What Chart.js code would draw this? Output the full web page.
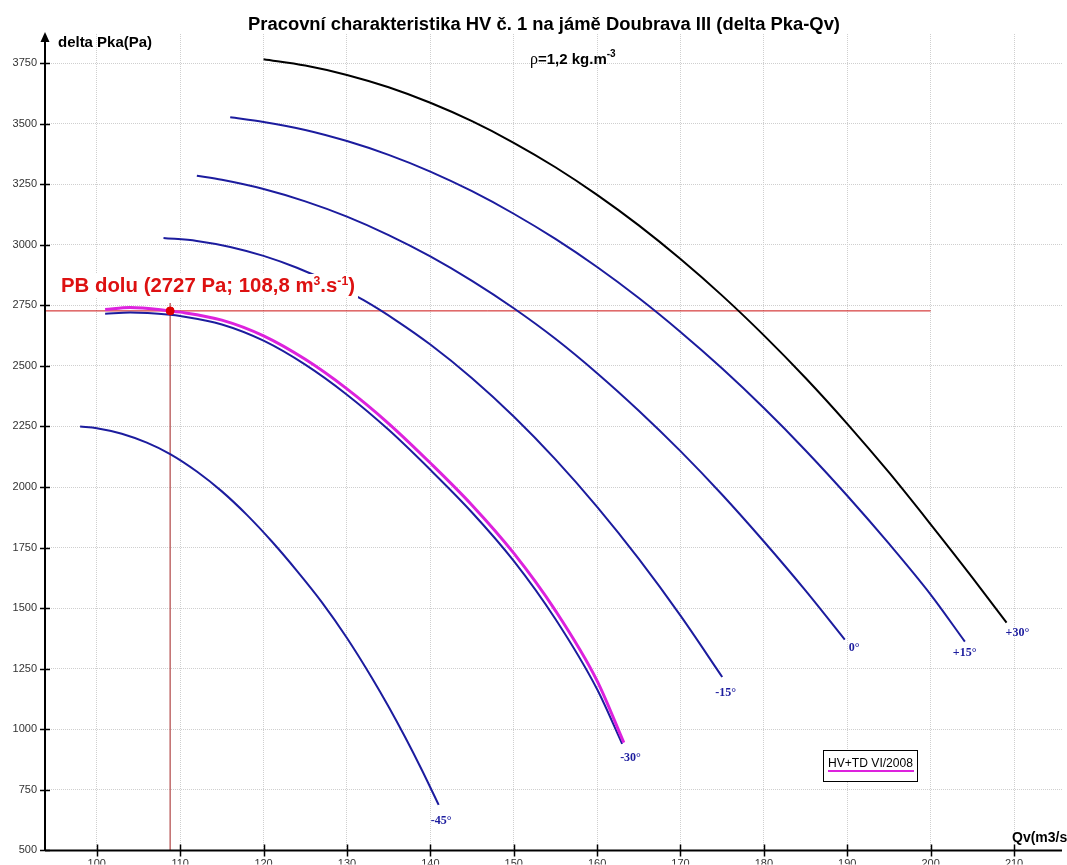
<!doctype html>
<html lang="cs">

<head>
    <meta charset="utf-8">
    <title>Pracovní charakteristika HV č. 1</title>
    <style>
        * {
            margin: 0;
            padding: 0;
        }

        body {
            background: #fff;
        }

        .chartBox {
            width: 1067px;
            height: 865px;
            position: relative;
        }
    </style>
</head>

<body>
    <div class="chartBox">
        <canvas id="myChart"></canvas>
    </div>

    <script src="https://cdn.jsdelivr.net/npm/chart.js"></script>

    <script>
        // axis ranges and tick labels
        const qvMin = 93.79
        const qvMax = 215.75
        const dpMin = 500
        const dpMax = 3870
        const qvTicks = [100, 110, 120, 130, 140, 150, 160, 170, 180, 190, 200, 210]
        const dpTicks = [500, 750, 1000, 1250, 1500, 1750, 2000, 2250, 2500, 2750, 3000, 3250, 3500, 3750]

        // blade angle curves (Qv in m3/s, delta Pka in Pa)
        const qvP30 = [120, 125, 130, 135, 140, 145, 150, 155, 160, 165, 170, 175, 180, 185, 190, 195, 200, 205, 209.1]
        const dpP30 = [3766, 3740, 3701, 3650, 3586, 3510, 3421, 3320, 3206, 3080, 2941, 2790, 2626, 2450, 2261, 2060, 1846, 1626, 1440]

        const qvP15 = [116, 120, 125, 130, 135, 140, 145, 150, 155, 160, 165, 170, 175, 180, 185, 190, 195, 200, 204.1]
        const dpP15 = [3526, 3507, 3474, 3428, 3371, 3302, 3221, 3128, 3024, 2908, 2780, 2640, 2489, 2326, 2151, 1964, 1766, 1556, 1362]

        const qv0 = [112, 115, 120, 125, 130, 135, 140, 145, 150, 155, 160, 165, 170, 175, 180, 185, 189.7]
        const dp0 = [3285, 3268, 3230, 3179, 3116, 3040, 2952, 2851, 2738, 2612, 2470, 2315, 2148, 1968, 1775, 1572, 1370]

        const qvM15 = [108, 112, 116, 120, 124, 128, 132, 136, 140, 145, 150, 155, 160, 165, 170, 175]
        const dpM15 = [3028, 3016, 2991, 2954, 2905, 2844, 2771, 2685, 2588, 2449, 2291, 2114, 1918, 1703, 1469, 1216]

        const qvM30 = [101, 104, 108.8, 110, 115, 120, 125, 130, 135, 140, 145, 150, 155, 160, 163]
        const dpM30 = [2715, 2720, 2711, 2706, 2671, 2604, 2505, 2381, 2236, 2071, 1895, 1695, 1455, 1165, 940]

        const qvM45 = [98, 100, 103, 106, 108.8, 112, 115, 118, 121, 124, 127, 130, 133, 135, 137, 139, 141]
        const dpM45 = [2250, 2243, 2220, 2183, 2136, 2064, 1982, 1885, 1775, 1654, 1524, 1377, 1212, 1093, 966, 831, 688]

        // measured curve HV+TD VI/2008
        const qvMeas = [101, 104, 108.8, 110, 115, 120, 125, 130, 135, 140, 145, 150, 155, 160, 163.2]
        const dpMeas = [2733, 2741, 2727, 2722, 2689, 2624, 2527, 2405, 2262, 2099, 1925, 1727, 1490, 1200, 945]

        // operating point of the mine
        const pbQv = 108.8
        const pbDp = 2727
        const pbLineEndQv = 200
        const pbLineTopDp = 2760

        const angleLabels = ['+30°', '+15°', '0°', '-15°', '-30°', '-45°']
        const angleQv = [qvP30, qvP15, qv0, qvM15, qvM30, qvM45]
        const angleDp = [dpP30, dpP15, dp0, dpM15, dpM30, dpM45]
        const angleColors = ['#000000', '#1c1c9e', '#1c1c9e', '#1c1c9e', '#1c1c9e', '#1c1c9e']
        // label offset from the curve end, px (left edge, baseline)
        const labelOffsets = [[-1, 13], [-12, 14], [4, 11], [-7, 19], [-2, 17], [-8, 19]]

        const sans = "'Liberation Sans', Arial, sans-serif"
        const serif = "'Liberation Serif', 'Times New Roman', serif"

        const toPoints = (xs, ys) => xs.map((v, i) => ({ x: v, y: ys[i] }))

        const angleSets = angleLabels.map((lbl, i) => ({
            label: lbl,
            data: toPoints(angleQv[i], angleDp[i]),
            borderColor: angleColors[i],
            borderWidth: 2,
            pointRadius: 0,
            cubicInterpolationMode: 'monotone',
            order: 2
        }))

        const datasets = [
            {
                label: 'PB dolu',
                data: [{ x: pbQv, y: pbDp }],
                showLine: false,
                pointRadius: 4,
                pointBackgroundColor: '#e00000',
                pointBorderColor: '#e00000',
                order: 0
            },
            {
                label: 'HV+TD VI/2008',
                data: toPoints(qvMeas, dpMeas),
                borderColor: '#dd22dd',
                borderWidth: 3,
                pointRadius: 0,
                cubicInterpolationMode: 'monotone',
                order: 1
            },
            ...angleSets,
            {
                label: 'pb-h',
                data: [{ x: qvMin, y: pbDp }, { x: pbLineEndQv, y: pbDp }],
                borderColor: '#cc1111',
                borderWidth: 1,
                pointRadius: 0,
                order: 5
            },
            {
                label: 'pb-v',
                data: [{ x: pbQv, y: dpMin }, { x: pbQv, y: pbLineTopDp }],
                borderColor: '#c06a6a',
                borderWidth: 1.5,
                pointRadius: 0,
                order: 5
            }
        ]

        // text drawn in pieces, squeezed to the width it has in the picture
        function drawRich(ctx, parts, x, y, width, color) {
            ctx.save()
            let total = 0
            parts.forEach(p => {
                ctx.font = p.font
                p.w = ctx.measureText(p.t).width
                total += p.w
            })
            const k = width ? width / total : 1
            ctx.translate(x, y)
            ctx.scale(k, 1)
            ctx.fillStyle = color
            ctx.textAlign = 'left'
            ctx.textBaseline = 'alphabetic'
            let cx = 0
            parts.forEach(p => {
                ctx.font = p.font
                ctx.fillText(p.t, cx, p.rise || 0)
                cx += p.w
            })
            ctx.restore()
            return total * k
        }

        const decor = {
            id: 'decor',
            beforeDraw(chart) {
                const ctx = chart.ctx
                ctx.save()
                ctx.fillStyle = '#fff'
                ctx.fillRect(0, 0, chart.width, chart.height)
                ctx.restore()
            },
            afterDraw(chart) {
                const { ctx, chartArea: a, scales: { x, y } } = chart

                // curve end labels
                angleLabels.forEach((lbl, i) => {
                    const meta = chart.getDatasetMeta(i + 2)
                    const end = meta.data[meta.data.length - 1]
                    ctx.save()
                    ctx.font = 'bold 12px ' + serif
                    ctx.fillStyle = '#1c1c9e'
                    ctx.textBaseline = 'alphabetic'
                    ctx.fillText(lbl, end.x + labelOffsets[i][0], end.y + labelOffsets[i][1])
                    ctx.restore()
                })

                // operating point label on a white box
                const bold20 = 'bold 20px ' + sans
                const bold12 = 'bold 12px ' + sans
                const pbParts = [
                    { t: 'PB dolu (2727 Pa; 108,8 m', font: bold20 },
                    { t: '3', font: bold12, rise: -7 },
                    { t: '.s', font: bold20 },
                    { t: '-1', font: bold12, rise: -7 },
                    { t: ')', font: bold20 }
                ]
                ctx.save()
                ctx.fillStyle = '#fff'
                ctx.fillRect(59, 274, 299, 24)
                ctx.restore()
                drawRich(ctx, pbParts, 61, 292, 294, '#dd1111')

                // title and axis names
                drawRich(ctx, [{ t: 'Pracovní charakteristika HV č. 1 na jámě Doubrava III (delta Pka-Qv)', font: 'bold 18px ' + sans }], 248, 30, 592, '#000')
                drawRich(ctx, [{ t: 'delta Pka(Pa)', font: 'bold 14px ' + sans }], 58, 47, 94, '#000')
                drawRich(ctx, [
                    { t: 'ρ', font: '16px ' + serif },
                    { t: '=1,2 kg.m', font: 'bold 15px ' + sans },
                    { t: '-3', font: 'bold 10px ' + sans, rise: -7 }
                ], 530, 64, 0, '#000')
                drawRich(ctx, [{ t: 'Qv(m3/s)', font: 'bold 14px ' + sans }], 1012, 842, 0, '#000')

                // legend box
                ctx.save()
                ctx.fillStyle = '#fff'
                ctx.fillRect(823, 750, 94, 31)
                ctx.strokeStyle = '#000'
                ctx.lineWidth = 1
                ctx.strokeRect(823.5, 750.5, 94, 31)
                ctx.strokeStyle = '#dd22dd'
                ctx.lineWidth = 2
                ctx.beginPath()
                ctx.moveTo(828, 771)
                ctx.lineTo(914, 771)
                ctx.stroke()
                ctx.restore()
                drawRich(ctx, [{ t: 'HV+TD VI/2008', font: '12px ' + sans }], 828, 767, 85, '#000')

                // axes with crossing tick marks and an arrow on the y axis
                ctx.save()
                ctx.strokeStyle = '#000'
                ctx.lineWidth = 2
                ctx.beginPath()
                ctx.moveTo(a.left, a.bottom)
                ctx.lineTo(a.right, a.bottom)
                ctx.moveTo(a.left, a.bottom)
                ctx.lineTo(a.left, a.top + 4)
                ctx.stroke()
                ctx.fillStyle = '#000'
                ctx.beginPath()
                ctx.moveTo(a.left, a.top - 2)
                ctx.lineTo(a.left - 4.5, a.top + 8)
                ctx.lineTo(a.left + 4.5, a.top + 8)
                ctx.closePath()
                ctx.fill()
                ctx.lineWidth = 1.5
                ctx.beginPath()
                y.ticks.forEach(t => {
                    const py = Math.round(y.getPixelForValue(t.value)) + 0.5
                    ctx.moveTo(a.left - 5, py)
                    ctx.lineTo(a.left + 5, py)
                })
                x.ticks.forEach(t => {
                    const px = Math.round(x.getPixelForValue(t.value)) + 0.5
                    ctx.moveTo(px, a.bottom - 6)
                    ctx.lineTo(px, a.bottom + 6)
                })
                ctx.stroke()
                ctx.restore()
            }
        }

        const tickFont = { family: sans, size: 11 }

        const config = {
            type: 'line',
            data: { datasets: datasets },
            options: {
                animation: false,
                responsive: true,
                maintainAspectRatio: false,
                layout: { padding: { top: 34, left: 0, right: 0, bottom: 0 } },
                plugins: {
                    legend: { display: false },
                    tooltip: { enabled: false },
                    title: { display: false }
                },
                scales: {
                    x: {
                        type: 'linear',
                        min: qvMin,
                        max: qvMax,
                        afterBuildTicks: s => { s.ticks = qvTicks.map(v => ({ value: v })) },
                        afterFit: s => { s.height = 14 },
                        ticks: {
                            font: tickFont,
                            color: '#333',
                            padding: 7,
                            maxRotation: 0,
                            autoSkip: false,
                            callback: v => String(v)
                        },
                        grid: { color: '#cfcfcf', lineWidth: 1, drawTicks: false },
                        border: { display: false, dash: [1, 1] }
                    },
                    y: {
                        type: 'linear',
                        min: dpMin,
                        max: dpMax,
                        afterBuildTicks: s => { s.ticks = dpTicks.map(v => ({ value: v })) },
                        afterFit: s => { s.width = 45 },
                        ticks: {
                            font: tickFont,
                            color: '#333',
                            padding: 8,
                            autoSkip: false,
                            callback: v => String(v)
                        },
                        grid: { color: '#cfcfcf', lineWidth: 1, drawTicks: false },
                        border: { display: false, dash: [1, 1] }
                    }
                }
            },
            plugins: [decor]
        }

        const myChart = new Chart(document.getElementById('myChart'), config)
    </script>
</body>

</html>
